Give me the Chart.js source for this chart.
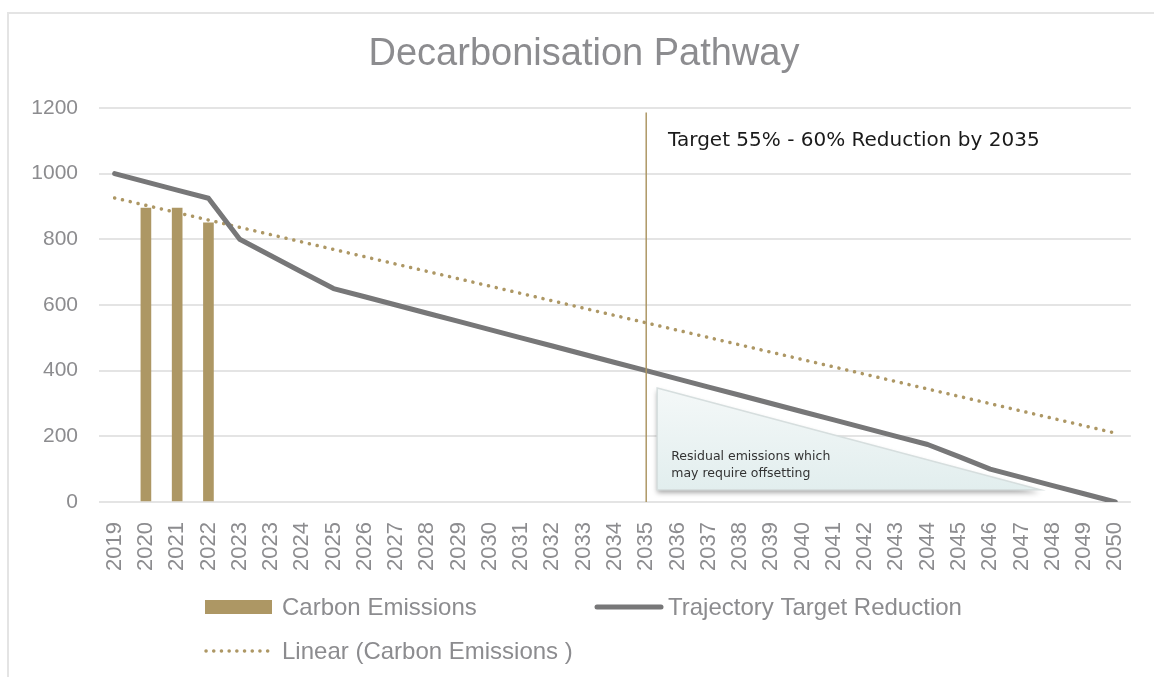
<!DOCTYPE html>
<html>
<head>
<meta charset="utf-8">
<script src="https://cdn.jsdelivr.net/npm/chart.js@4.4.1/dist/chart.umd.min.js"></script>
<style>
  html, body { margin: 0; padding: 0; background: #fff; overflow: hidden; }
  #frame { position: absolute; left: 7px; top: 12px; width: 1170px; height: 700px; border: 2px solid #e4e4e4; }
  #wrap { position: absolute; left: 0; top: 0; width: 1154px; height: 677px; }
</style>
</head>
<body>
<div id="frame"></div>
<div id="wrap"><canvas id="chart" width="1154" height="677"></canvas></div>
<script>
/* ─── Data ───────────────────────────────────── */
const years = ['2019', '2020', '2021', '2022', '2023', '2023', '2024', '2025', '2026', '2027', '2028',
    '2029', '2030', '2031', '2032', '2033', '2034', '2035', '2036', '2037', '2038', '2039', '2040',
    '2041', '2042', '2043', '2044', '2045', '2046', '2047', '2048', '2049', '2050'];

const carbonEmissions = [null, 895, 895, 850, null, null, null, null, null, null, null,
    null, null, null, null, null, null, null, null, null, null, null, null,
    null, null, null, null, null, null, null, null, null, null];

const trajectoryTarget = [1000, 975, 950, 925, 800, 750, 700, 650, 625, 600, 575,
    550, 525, 500, 475, 450, 425, 400, 375, 350, 325, 300, 275,
    250, 225, 200, 175, 138, 100, 75, 50, 25, 0];

// trendline only has its two end values, the line spans the gap
const linearTrend = [926, null, null, null, null, null, null, null, null, null, null,
    null, null, null, null, null, null, null, null, null, null, null, null,
    null, null, null, null, null, null, null, null, null, 210];

const yTicks = [0, 200, 400, 600, 800, 1000, 1200];

// annotation geometry in data units (category index, value)
const targetLine = [17, 1186];
const residualShape = [[17.35, 347], [17.35, 37], [29.6, 37]];
const chartTitle = 'Decarbonisation Pathway';
const targetText = 'Target 55% - 60% Reduction by 2035';
const residualText = ['Residual emissions which', 'may require offsetting'];

const colors = {
    gold: '#ad9764',
    gray: '#777778',
    grid: '#e4e4e4',
    tick: '#8c8c8f'
};

/* ─── Annotations + title + legend plugin ────── */
const extras = {
    id: 'extras',
    beforeDatasetsDraw(chart) {
        const { ctx, scales: { x, y } } = chart;
        const pts = residualShape.map(p => [x.getPixelForValue(p[0]), y.getPixelForValue(p[1])]);
        ctx.save();
        const grad = ctx.createLinearGradient(0, pts[0][1], 0, pts[1][1]);
        grad.addColorStop(0, '#f4f8f8');
        grad.addColorStop(1, '#e2eeee');
        ctx.beginPath();
        ctx.moveTo(pts[0][0], pts[0][1]);
        ctx.lineTo(pts[1][0], pts[1][1]);
        ctx.lineTo(pts[2][0], pts[2][1]);
        ctx.closePath();
        ctx.shadowColor = 'rgba(0,0,0,0.35)';
        ctx.shadowBlur = 5;
        ctx.shadowOffsetY = 3;
        ctx.fillStyle = grad;
        ctx.fill();
        ctx.shadowColor = 'transparent';
        ctx.strokeStyle = '#d6dede';
        ctx.lineWidth = 1.5;
        ctx.stroke();

        ctx.fillStyle = '#333';
        ctx.font = '12.5px "DejaVu Sans"';
        ctx.textBaseline = 'middle';
        ctx.textAlign = 'left';
        const tx = x.getPixelForValue(17.8);
        ctx.fillText(residualText[0], tx, y.getPixelForValue(137));
        ctx.fillText(residualText[1], tx, y.getPixelForValue(86));
        ctx.restore();
    },
    afterDatasetsDraw(chart) {
        const { ctx, scales: { x, y } } = chart;
        const lx = x.getPixelForValue(targetLine[0]);
        ctx.save();
        ctx.strokeStyle = '#ae9866';
        ctx.lineWidth = 1.5;
        ctx.beginPath();
        ctx.moveTo(lx, y.getPixelForValue(targetLine[1]));
        ctx.lineTo(lx, y.getPixelForValue(0));
        ctx.stroke();

        ctx.fillStyle = '#1a1a1a';
        ctx.font = '20px "DejaVu Sans"';
        ctx.textBaseline = 'middle';
        ctx.fillText(targetText, x.getPixelForValue(17.7), y.getPixelForValue(1100));
        ctx.restore();
    },
    afterDraw(chart) {
        const ctx = chart.ctx;
        const ds = chart.data.datasets;
        ctx.save();

        // title
        ctx.fillStyle = colors.tick;
        ctx.font = '38px "Liberation Sans"';
        ctx.textAlign = 'center';
        ctx.textBaseline = 'middle';
        ctx.fillText(chartTitle, 584, 55);

        ctx.textAlign = 'left';
        ctx.font = '24px "Liberation Sans"';

        // Carbon Emissions
        ctx.fillStyle = colors.gold;
        ctx.fillRect(205, 600, 67, 14);
        ctx.fillStyle = colors.tick;
        ctx.fillText(ds[2].label, 282, 608);

        // Trajectory
        ctx.strokeStyle = colors.gray;
        ctx.lineWidth = 5;
        ctx.lineCap = 'round';
        ctx.beginPath();
        ctx.moveTo(597, 607);
        ctx.lineTo(661, 607);
        ctx.stroke();
        ctx.fillText(ds[0].label, 668, 608);

        // Linear trend
        ctx.strokeStyle = colors.gold;
        ctx.lineWidth = 3.5;
        ctx.setLineDash([0.1, 7.6]);
        ctx.beginPath();
        ctx.moveTo(206, 651);
        ctx.lineTo(274, 651);
        ctx.stroke();
        ctx.setLineDash([]);
        ctx.fillText(ds[1].label, 282, 652);
        ctx.restore();
    }
};

/* ─── Chart ──────────────────────────────────── */
new Chart(document.getElementById('chart').getContext('2d'), {
    type: 'bar',
    data: {
        labels: years,
        datasets: [{
            type: 'line',
            label: 'Trajectory Target Reduction',
            data: trajectoryTarget,
            borderColor: colors.gray,
            backgroundColor: colors.gray,
            borderWidth: 5,
            borderCapStyle: 'round',
            borderJoinStyle: 'round',
            pointRadius: 0,
            tension: 0,
            order: 0
        }, {
            type: 'line',
            label: 'Linear (Carbon Emissions )',
            data: linearTrend,
            borderColor: colors.gold,
            borderWidth: 3.5,
            borderDash: [0.1, 7.9],
            borderCapStyle: 'round',
            pointRadius: 0,
            spanGaps: true,
            order: 1
        }, {
            type: 'bar',
            label: 'Carbon Emissions',
            data: carbonEmissions,
            backgroundColor: colors.gold,
            barThickness: 10,
            order: 2
        }]
    },
    options: {
        responsive: false,
        animation: false,
        layout: { padding: { top: 108, left: 0, right: 23, bottom: 0 } },
        plugins: {
            legend: { display: false },
            tooltip: { enabled: false },
            title: { display: false }
        },
        scales: {
            x: {
                grid: { display: false },
                border: { display: false },
                ticks: {
                    autoSkip: false,
                    maxRotation: 90,
                    minRotation: 90,
                    padding: 12,
                    color: colors.tick,
                    font: { family: '"Liberation Sans"', size: 22 }
                },
                afterFit(scale) { scale.height = 175; }
            },
            y: {
                min: 0,
                max: 1200,
                afterBuildTicks(scale) { scale.ticks = yTicks.map(v => ({ value: v })); },
                grid: { color: colors.grid, lineWidth: 2, drawTicks: false },
                border: { display: false },
                ticks: {
                    padding: 21,
                    color: colors.tick,
                    font: { family: '"Liberation Sans"', size: 21 },
                    callback: v => String(v)
                },
                afterFit(scale) { scale.width = 99; }
            }
        }
    },
    plugins: [extras]
});
</script>
</body>
</html>
